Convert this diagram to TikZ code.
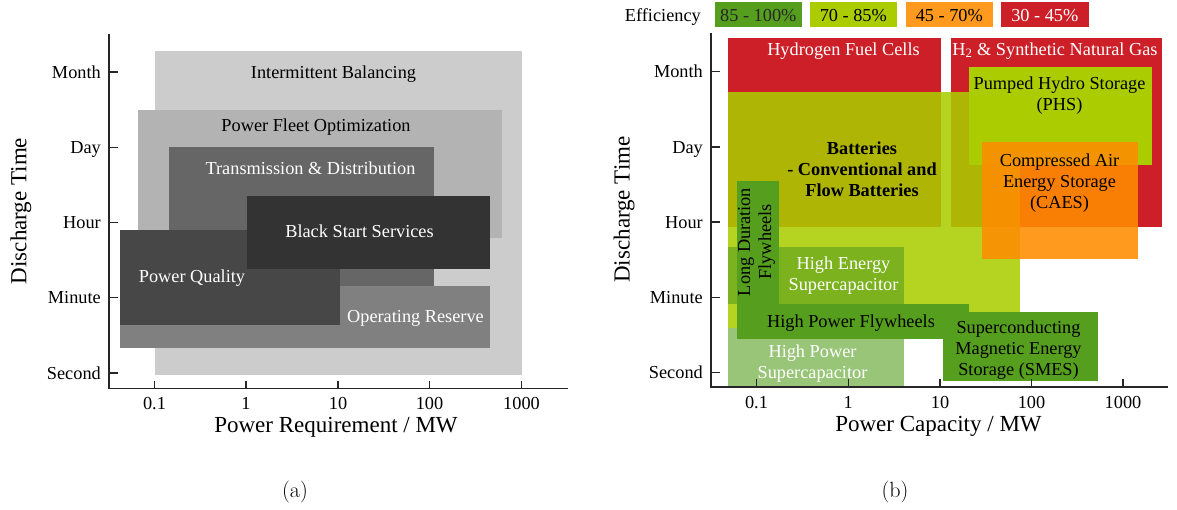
\documentclass[tikz,border=0pt]{standalone}
\usepackage{fontspec}
\newfontfamily\tnr{Liberation Serif}
\definecolor{cIB}{HTML}{CCCCCC}
\definecolor{cPFO}{HTML}{B3B3B3}
\definecolor{cTD}{HTML}{666666}
\definecolor{cOR}{HTML}{808080}
\definecolor{cPQ}{HTML}{474747}
\definecolor{cBSS}{HTML}{333333}
\definecolor{cred}{HTML}{CC1F28}
\definecolor{cyg}{HTML}{AACC00}
\definecolor{corg}{HTML}{FF8C00}
\definecolor{corgL}{HTML}{FF9A1F}
\definecolor{cgrn}{HTML}{559E1E}
\begin{document}
\begin{tikzpicture}[x=1pt,y=-1pt,
  lab/.style={font=\tnr\fontsize{18.3}{21}\selectfont, align=center, inner sep=0pt},
  wlab/.style={lab, text=white},
  blab/.style={lab, font=\tnr\bfseries\fontsize{18.3}{21}\selectfont},
  ylab/.style={lab, anchor=base east},
  xlab/.style={lab, anchor=base},
  axlab/.style={font=\tnr\fontsize{23}{27}\selectfont, inner sep=0pt},
  caplab/.style={font=\fontsize{22}{26}\selectfont, inner sep=0pt},
  axisline/.style={line width=1.3pt, black!85},
  tickline/.style={line width=1.1pt, black!85}]
\useasboundingbox (0,0) rectangle (1177,510);

% ================= panel (a) =================
\fill[cIB]  (154.5,51) rectangle (521.5,375);
\fill[cPFO] (137.5,110) rectangle (501.5,238);
\fill[cTD]  (168.5,147.5) rectangle (433.5,287);
\fill[cOR]  (120,286.5) rectangle (489.5,347.5);
\fill[cPQ]  (120,230) rectangle (340,325);
\fill[cBSS] (246.5,196.5) rectangle (489.5,269);

\node[lab]  (ib)  at (333.5,74) {Intermittent Balancing};
\node[lab]  (pfo) at (316,127.5) {Power Fleet Optimization};
\node[wlab] (td)  at (310.5,168) {Transmission \& Distribution};
\node[wlab] (bss) at (359.5,231.5) {Black Start Services};
\node[wlab] (pq)  at (192,278.5) {Power Quality};
\node[wlab] (or)  at (415.5,318) {Operating Reserve};

% axes
\coordinate (a0) at (109,388.5);
\coordinate (atop) at (109,34);
\coordinate (aright) at (568,388.5);
\draw[axisline] (atop) -- (a0) -- (aright);
\foreach \y/\t [count=\i] in {72/Month,147.5/Day,222.5/Hour,297.7/Minute,373/Second}{
  \coordinate (ayt\i) at (109,\y);
  \coordinate (ayu\i) at (117.5,\y);
  \draw[tickline] (ayt\i) -- (ayu\i);
  \node[ylab] (ayl\i) at (101,\y+6.3) {\t};
}
\foreach \x/\t [count=\i] in {154.5/0.1,246/1,338/10,429.5/100,521.5/1000}{
  \coordinate (axt\i) at (\x,388.5);
  \coordinate (axu\i) at (\x,380.5);
  \draw[tickline] (axt\i) -- (axu\i);
  \node[xlab] (axl\i) at (\x,409) {\t};
}
\node[axlab] (axlabx) at (336,427) {Power Requirement / MW};
\node[axlab, rotate=90] (axlaby) at (21,211) {Discharge Time};
\node[caplab] (capa) at (295,492) {(a)};

% ================= panel (b) =================
% legend
\node[lab, anchor=base east] (eff) at (701,21.5) {Efficiency};
\fill[cgrn]  (715,2.5) rectangle (801.5,27.5);
\fill[cyg]   (810,2.5) rectangle (896.5,27.5);
\fill[corgL] (906,2.5) rectangle (992.5,27.5);
\fill[cred]  (1001,2.5) rectangle (1088.5,27.5);
\node[lab, anchor=base, text=black!85] (l1) at (758.3,21.5) {85 - 100\%};
\node[lab, anchor=base] (l2) at (853.3,21.5) {70 - 85\%};
\node[lab, anchor=base] (l3) at (949.3,21.5) {45 - 70\%};
\node[wlab, anchor=base] (l4) at (1044.8,21.5) {30 - 45\%};

% technology areas
\fill[cred] (728,38.2) rectangle (941,227);
\fill[cred] (951,38.2) rectangle (1162,227);
\fill[cyg, fill opacity=0.87] (728,92.5) rectangle (1020,328.5);
\fill[cyg] (968.5,67.2) rectangle (1151.5,165.3);
\fill[corg, fill opacity=0.88] (981.5,142.3) rectangle (1138,259);
\fill[cgrn, fill opacity=0.6] (728,328.5) rectangle (904,387);
\fill[cgrn, fill opacity=0.6] (728,247.5) rectangle (904,304);
\fill[cgrn] (736.5,180.7) rectangle (778.5,339);
\fill[cgrn] (736.5,304) rectangle (968.5,339);
\fill[cgrn] (943,312) rectangle (1097.5,381);

\node[wlab] (hfc) at (843.5,51) {Hydrogen Fuel Cells};
\node[wlab] (h2)  at (1055,51) {H\textsubscript{2} \& Synthetic Natural Gas};
\node[lab]  (phs) at (1059.5,95.5) {Pumped Hydro Storage\\(PHS)};
\node[blab] (bat) at (862,169) {Batteries\\- Conventional and\\Flow Batteries};
\node[lab]  (caes) at (1059.5,183) {Compressed Air\\Energy Storage\\(CAES)};
\node[lab, rotate=90] (ldf) at (756.5,242) {Long Duration\\Flywheels};
\node[wlab] (hes) at (843.5,276) {High Energy\\Supercapacitor};
\node[lab]  (hpf) at (851,323) {High Power Flywheels};
\node[wlab] (hps) at (812.5,364) {High Power\\Supercapacitor};
\node[lab]  (smes) at (1018.5,350.5) {Superconducting\\Magnetic Energy\\Storage (SMES)};

% axes
\coordinate (b0) at (711,387);
\coordinate (btop) at (711,33);
\coordinate (bright) at (1168,387);
\draw[axisline] (btop) -- (b0) -- (bright);
\foreach \y/\t [count=\i] in {71.5/Month,147/Day,222/Hour,297.5/Minute,372.5/Second}{
  \coordinate (byt\i) at (711,\y);
  \coordinate (byu\i) at (719.5,\y);
  \draw[tickline] (byt\i) -- (byu\i);
  \node[ylab] (byl\i) at (703,\y+6.3) {\t};
}
\foreach \x/\t [count=\i] in {756.5/0.1,848.3/1,940/10,1031.5/100,1123/1000}{
  \coordinate (bxt\i) at (\x,387);
  \coordinate (bxu\i) at (\x,379);
  \draw[tickline] (bxt\i) -- (bxu\i);
  \node[xlab] (bxl\i) at (\x,408) {\t};
}
\node[axlab] (bxlabx) at (938.5,426) {Power Capacity / MW};
\node[axlab, rotate=90] (bxlaby) at (624,209.5) {Discharge Time};
\node[caplab] (capb) at (895,492) {(b)};
\end{tikzpicture}
\end{document}
